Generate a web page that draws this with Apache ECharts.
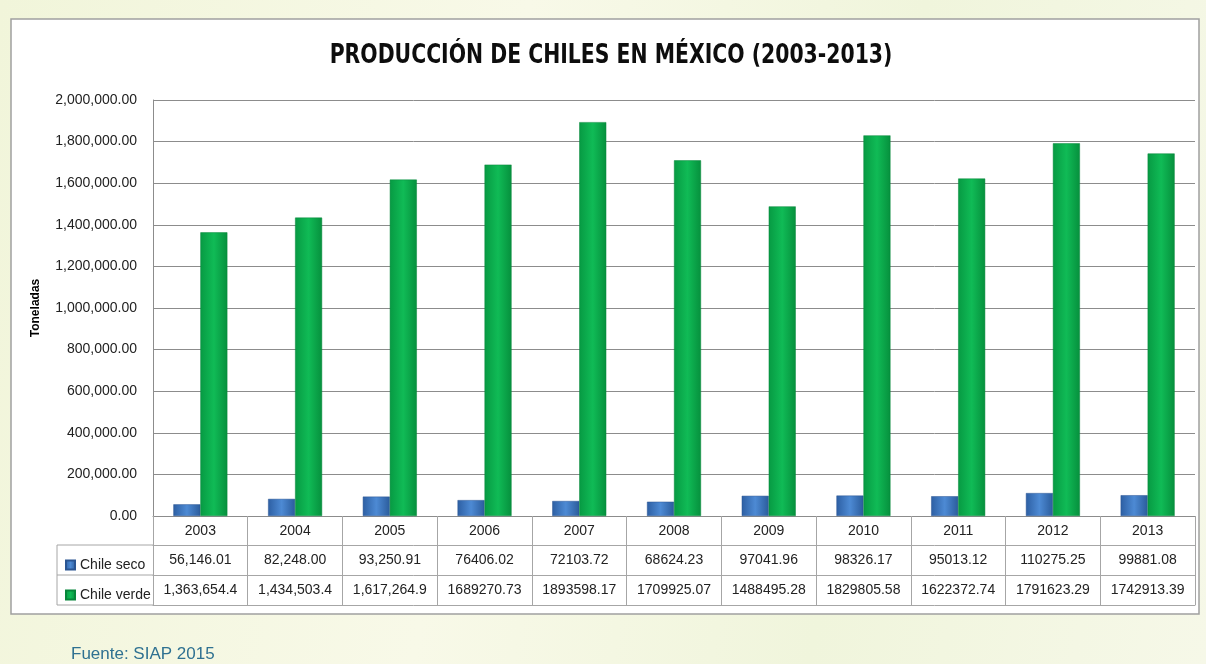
<!DOCTYPE html>
<html>
<head>
<meta charset="utf-8">
<script src="https://cdn.jsdelivr.net/npm/echarts@6/dist/echarts.min.js"></script>
<style>
  html, body { margin: 0; padding: 0; }
  body { background: linear-gradient(100deg, #f1f5da 0%, #f8f9e8 40%, #f0f5dc 70%, #f6f8e8 100%); }
  #chart { width: 1206px; height: 664px; }
</style>
</head>
<body>
<div id="chart"></div>
<script>
// datos
var years = ['2003', '2004', '2005', '2006', '2007', '2008', '2009', '2010', '2011', '2012', '2013']
var chileSeco = [56146.01, 82248.00, 93250.91, 76406.02, 72103.72, 68624.23, 97041.96, 98326.17, 95013.12, 110275.25, 99881.08]
var chileVerde = [1363654.4, 1434503.4, 1617264.9, 1689270.73, 1893598.17, 1709925.07, 1488495.28, 1829805.58, 1622372.74, 1791623.29, 1742913.39]
// textos de la tabla tal como aparecen
var secoLabels = ['56,146.01', '82,248.00', '93,250.91', '76406.02', '72103.72', '68624.23', '97041.96', '98326.17', '95013.12', '110275.25', '99881.08']
var verdeLabels = ['1,363,654.4', '1,434,503.4', '1,617,264.9', '1689270.73', '1893598.17', '1709925.07', '1488495.28', '1829805.58', '1622372.74', '1791623.29', '1742913.39']

var font = 'Liberation Sans, Arial, sans-serif'
var textColor = '#222'
var lineColor = '#8c8c8c'
var tableColor = '#a6a6a6'

function fmt(v) {
    return v.toLocaleString('en-US', { minimumFractionDigits: 2, maximumFractionDigits: 2 })
}

var chart = echarts.init(document.getElementById('chart'))

var option = {
    backgroundColor: 'transparent',
    animation: false,
    legend: {
        orient: 'vertical',
        left: 60,
        top: 545,
        itemWidth: 9,
        itemHeight: 9,
        itemGap: 0,
        icon: 'rect',
        selectedMode: false,
        textStyle: { fontFamily: font, fontSize: 14, color: textColor, lineHeight: 30 },
        data: ['Chile seco', 'Chile verde']
    },
    grid: { left: 153, right: 11, top: 100, bottom: 148, containLabel: false },
    yAxis: {
        type: 'value',
        min: 0,
        max: 2000000,
        interval: 200000,
        name: 'Toneladas',
        nameLocation: 'middle',
        nameGap: 111,
        nameTextStyle: { fontFamily: font, fontWeight: 'bold', fontSize: 12, color: '#000' },
        axisLine: { show: true, lineStyle: { color: lineColor } },
        axisTick: { show: false },
        axisLabel: { margin: 16, fontFamily: font, fontSize: 14, color: textColor, formatter: fmt },
        splitLine: { lineStyle: { color: lineColor, width: 1 } }
    },
    xAxis: [{
        type: 'category',
        position: 'bottom',
        data: years,
        axisLine: { lineStyle: { color: lineColor } },
        axisTick: { show: true, interval: 0, length: 89, lineStyle: { color: tableColor } },
        axisLabel: { margin: 8, fontFamily: font, fontSize: 14, color: textColor, interval: 0 }
    }, {
        type: 'category',
        position: 'bottom',
        data: secoLabels,
        offset: 29,
        axisLine: { lineStyle: { color: tableColor } },
        axisTick: { show: false },
        axisLabel: { margin: 8, fontFamily: font, fontSize: 14, color: textColor, interval: 0 }
    }, {
        type: 'category',
        position: 'bottom',
        data: verdeLabels,
        offset: 59,
        axisLine: { lineStyle: { color: tableColor } },
        axisTick: { show: false },
        axisLabel: { margin: 8, fontFamily: font, fontSize: 14, color: textColor, interval: 0 }
    }, {
        type: 'category',
        position: 'bottom',
        data: years,
        offset: 89,
        axisLine: { lineStyle: { color: tableColor } },
        axisTick: { show: false },
        axisLabel: { show: false }
    }],
    graphic: [
        { type: 'rect', z: -10, shape: { x: 11, y: 19, width: 1188, height: 595 }, style: { fill: '#fff', stroke: '#a0a0a0', lineWidth: 1.5 } },
        {
            type: 'text', x: 611, y: 56, scaleX: 0.84,
            style: {
                text: 'PRODUCCIÓN DE CHILES EN MÉXICO (2003-2013)',
                align: 'center', verticalAlign: 'middle',
                fontFamily: 'DejaVu Sans Condensed, Liberation Sans Narrow, sans-serif',
                fontWeight: 'bold', fontSize: 27, fill: '#0d0d0d'
            }
        },
        { type: 'line', shape: { x1: 57, y1: 545, x2: 153, y2: 545 }, style: { stroke: tableColor } },
        { type: 'line', shape: { x1: 57, y1: 575, x2: 153, y2: 575 }, style: { stroke: tableColor } },
        { type: 'line', shape: { x1: 57, y1: 605, x2: 153, y2: 605 }, style: { stroke: tableColor } },
        { type: 'line', shape: { x1: 57, y1: 545, x2: 57, y2: 605 }, style: { stroke: tableColor } },
        { type: 'text', left: 71, top: 646, style: { text: 'Fuente: SIAP 2015', fontFamily: font, fontSize: 17, fill: '#2f7191' } }
    ],
    series: [{
        name: 'Chile seco',
        type: 'bar',
        barWidth: 27,
        barGap: '0%',
        data: chileSeco,
        itemStyle: {
            borderColor: '#2a5592',
            borderWidth: 0.5,
            color: new echarts.graphic.LinearGradient(0, 0, 1, 0, [
                { offset: 0, color: '#2d5fa3' },
                { offset: 0.5, color: '#4d8ad4' },
                { offset: 1, color: '#2b5c9c' }
            ])
        }
    }, {
        name: 'Chile verde',
        type: 'bar',
        barWidth: 27,
        data: chileVerde,
        itemStyle: {
            borderColor: '#07863a',
            borderWidth: 0.5,
            color: new echarts.graphic.LinearGradient(0, 0, 1, 0, [
                { offset: 0, color: '#079a43' },
                { offset: 0.5, color: '#10bb56' },
                { offset: 1, color: '#06903d' }
            ])
        }
    }]
}

chart.setOption(option)
</script>
</body>
</html>
